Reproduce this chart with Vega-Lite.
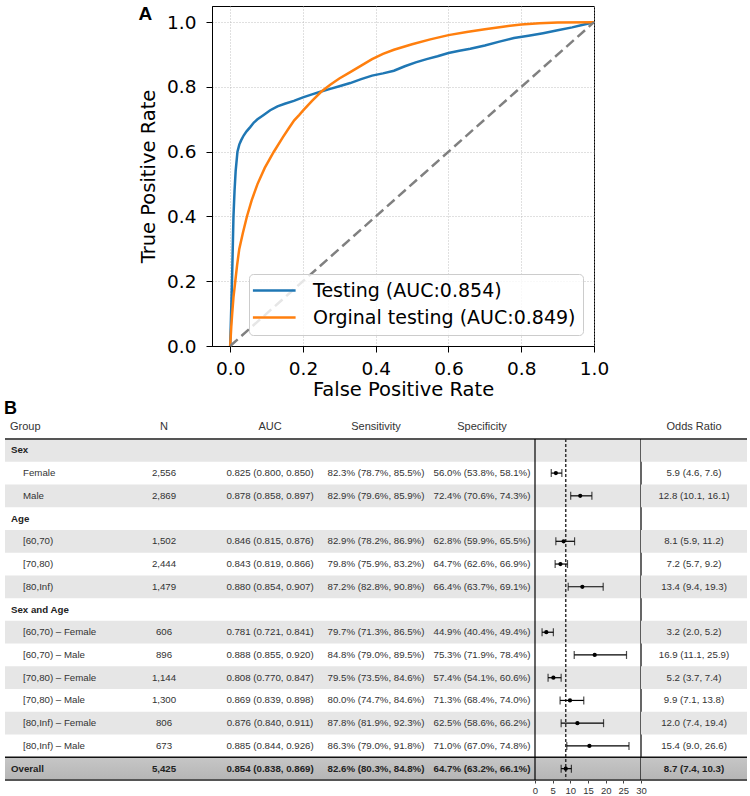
{
  "$schema": "https://vega.github.io/schema/vega-lite/v6.json",
  "background": "white",
  "padding": {"left": 4, "top": 4, "right": 0, "bottom": 16},
  "config": {
    "view": {"stroke": null},
    "font": "Liberation Sans",
    "title": {"font": "Liberation Sans", "fontSize": 11, "fontWeight": "normal", "color": "#333333", "offset": 6}
  },
  "spacing": 0,
  "resolve": {"legend": {"color": "independent"}},
  "vconcat": [
    {
      "spacing": 0,
      "resolve": {"legend": {"color": "independent"}},
      "hconcat": [
        {"width": 133, "height": 1, "data": {"values": []}, "mark": "rect"},
        {
          "width": 382,
          "height": 340,
          "view": {"stroke": "black", "strokeWidth": 1},
          "title": {"text": "A", "anchor": "start", "frame": "bounds", "fontSize": 19, "fontWeight": "bold", "color": "black", "offset": -18},
          "layer": [
            {
              "data": {
                "values": [
                  {"series": "Testing (AUC:0.854)",
                   "fpr": [0, 0.002, 0.004, 0.005, 0.007, 0.009, 0.012, 0.015, 0.02, 0.025, 0.03, 0.037, 0.045, 0.055, 0.065, 0.075, 0.09, 0.11, 0.13, 0.15, 0.175, 0.2, 0.225, 0.25, 0.275, 0.3, 0.33, 0.36, 0.39, 0.42, 0.45, 0.48, 0.51, 0.54, 0.57, 0.6, 0.63, 0.66, 0.7, 0.74, 0.78, 0.82, 0.86, 0.9, 0.94, 0.97, 1],
                   "tpr": [0, 0.08, 0.16, 0.2, 0.3, 0.4, 0.48, 0.54, 0.6, 0.622, 0.635, 0.65, 0.663, 0.676, 0.69, 0.7, 0.712, 0.728, 0.74, 0.748, 0.757, 0.768, 0.777, 0.786, 0.794, 0.802, 0.812, 0.824, 0.835, 0.842, 0.85, 0.864, 0.876, 0.886, 0.895, 0.905, 0.912, 0.918, 0.928, 0.94, 0.951, 0.958, 0.966, 0.975, 0.984, 0.992, 1]},
                  {"series": "Orginal testing (AUC:0.849)",
                   "fpr": [0, 0.003, 0.0055, 0.009, 0.014, 0.019, 0.025, 0.035, 0.046, 0.059, 0.075, 0.095, 0.12, 0.145, 0.162, 0.176, 0.19, 0.2, 0.225, 0.25, 0.275, 0.3, 0.33, 0.36, 0.39, 0.42, 0.45, 0.5, 0.55, 0.6, 0.65, 0.7, 0.75, 0.8, 0.85, 0.9, 1],
                   "tpr": [0, 0.06, 0.1, 0.15, 0.2, 0.25, 0.3, 0.35, 0.4, 0.45, 0.5, 0.55, 0.6, 0.645, 0.674, 0.697, 0.714, 0.727, 0.757, 0.785, 0.807, 0.826, 0.846, 0.866, 0.886, 0.902, 0.915, 0.932, 0.947, 0.96, 0.97, 0.978, 0.986, 0.993, 0.997, 0.999, 1]}
                ]
              },
              "transform": [{"flatten": ["fpr", "tpr"]}],
              "mark": {"type": "line", "strokeWidth": 2.5},
              "encoding": {
                "x": {
                  "field": "fpr", "type": "quantitative",
                  "scale": {"domain": [-0.05, 1], "nice": false, "zero": false},
                  "axis": {"title": "False Positive Rate", "values": [0, 0.2, 0.4, 0.6, 0.8, 1], "format": ".1f", "labelFlush": false, "labelOverlap": false,
                           "grid": true, "gridColor": "#b0b0b0", "gridDash": [1, 2], "gridWidth": 0.8,
                           "domainColor": "black", "domainWidth": 1, "tickColor": "black", "tickSize": 6, "tickWidth": 1,
                           "labelFont": "DejaVu Sans", "labelFontSize": 18.5, "labelColor": "black", "labelPadding": 7,
                           "titleFont": "DejaVu Sans", "titleFontSize": 19.5, "titleFontWeight": "normal", "titleColor": "black", "titlePadding": 3}
                },
                "y": {
                  "field": "tpr", "type": "quantitative",
                  "scale": {"domain": [0, 1.05], "nice": false, "zero": false},
                  "axis": {"title": "True Positive Rate", "values": [0, 0.2, 0.4, 0.6, 0.8, 1], "format": ".1f", "labelFlush": false, "labelOverlap": false,
                           "grid": true, "gridColor": "#b0b0b0", "gridDash": [1, 2], "gridWidth": 0.8,
                           "domainColor": "black", "domainWidth": 1, "tickColor": "black", "tickSize": 6, "tickWidth": 1,
                           "labelFont": "DejaVu Sans", "labelFontSize": 18.5, "labelColor": "black", "labelPadding": 10,
                           "titleFont": "DejaVu Sans", "titleFontSize": 19.5, "titleFontWeight": "normal", "titleColor": "black", "titlePadding": 8}
                },
                "color": {
                  "field": "series", "type": "nominal",
                  "scale": {"domain": ["Testing (AUC:0.854)", "Orginal testing (AUC:0.849)"], "range": ["#1f77b4", "#ff7f0e"]},
                  "legend": {"title": null, "orient": "bottom-right", "offset": 11, "symbolType": "M-1.8,0H4.3", "symbolSize": 196, "symbolStrokeWidth": 2.5,
                             "labelFont": "DejaVu Sans", "labelFontSize": 19, "labelColor": "black", "labelLimit": 400, "labelOffset": 38,
                             "fillColor": "rgba(255,255,255,0.8)", "strokeColor": "#cccccc", "cornerRadius": 4, "padding": 7, "rowPadding": 7}
                }
              }
            },
            {
              "data": {"values": [{"fpr": 0, "tpr": 0}, {"fpr": 1, "tpr": 1}]},
              "mark": {"type": "line", "color": "#808080", "strokeWidth": 2.5, "strokeDash": [10, 5]},
              "encoding": {
                "x": {"field": "fpr", "type": "quantitative"},
                "y": {"field": "tpr", "type": "quantitative"}
              }
            }
          ]
        }
      ]
    },
    {
      "title": {"text": "B", "anchor": "start", "fontSize": 18, "fontWeight": "bold", "color": "black", "offset": 3},
      "data": {
        "values": [
          {"Group": "Sex", "kind": "group"},
          {"Group": "Female", "kind": "item", "N": "2,556", "AUC": "0.825 (0.800, 0.850)", "Sensitivity": "82.3% (78.7%, 85.5%)", "Specificity": "56.0% (53.8%, 58.1%)", "or": 5.9, "lo": 4.6, "hi": 7.6},
          {"Group": "Male", "kind": "item", "N": "2,869", "AUC": "0.878 (0.858, 0.897)", "Sensitivity": "82.9% (79.6%, 85.9%)", "Specificity": "72.4% (70.6%, 74.3%)", "or": 12.8, "lo": 10.1, "hi": 16.1},
          {"Group": "Age", "kind": "group"},
          {"Group": "[60,70)", "kind": "item", "N": "1,502", "AUC": "0.846 (0.815, 0.876)", "Sensitivity": "82.9% (78.2%, 86.9%)", "Specificity": "62.8% (59.9%, 65.5%)", "or": 8.1, "lo": 5.9, "hi": 11.2},
          {"Group": "[70,80)", "kind": "item", "N": "2,444", "AUC": "0.843 (0.819, 0.866)", "Sensitivity": "79.8% (75.9%, 83.2%)", "Specificity": "64.7% (62.6%, 66.9%)", "or": 7.2, "lo": 5.7, "hi": 9.2},
          {"Group": "[80,Inf)", "kind": "item", "N": "1,479", "AUC": "0.880 (0.854, 0.907)", "Sensitivity": "87.2% (82.8%, 90.8%)", "Specificity": "66.4% (63.7%, 69.1%)", "or": 13.4, "lo": 9.4, "hi": 19.3},
          {"Group": "Sex and Age", "kind": "group"},
          {"Group": "[60,70) – Female", "kind": "item", "N": "606", "AUC": "0.781 (0.721, 0.841)", "Sensitivity": "79.7% (71.3%, 86.5%)", "Specificity": "44.9% (40.4%, 49.4%)", "or": 3.2, "lo": 2.0, "hi": 5.2},
          {"Group": "[60,70) – Male", "kind": "item", "N": "896", "AUC": "0.888 (0.855, 0.920)", "Sensitivity": "84.8% (79.0%, 89.5%)", "Specificity": "75.3% (71.9%, 78.4%)", "or": 16.9, "lo": 11.1, "hi": 25.9},
          {"Group": "[70,80) – Female", "kind": "item", "N": "1,144", "AUC": "0.808 (0.770, 0.847)", "Sensitivity": "79.5% (73.5%, 84.6%)", "Specificity": "57.4% (54.1%, 60.6%)", "or": 5.2, "lo": 3.7, "hi": 7.4},
          {"Group": "[70,80) – Male", "kind": "item", "N": "1,300", "AUC": "0.869 (0.839, 0.898)", "Sensitivity": "80.0% (74.7%, 84.6%)", "Specificity": "71.3% (68.4%, 74.0%)", "or": 9.9, "lo": 7.1, "hi": 13.8},
          {"Group": "[80,Inf) – Female", "kind": "item", "N": "806", "AUC": "0.876 (0.840, 0.911)", "Sensitivity": "87.8% (81.9%, 92.3%)", "Specificity": "62.5% (58.6%, 66.2%)", "or": 12.0, "lo": 7.4, "hi": 19.4},
          {"Group": "[80,Inf) – Male", "kind": "item", "N": "673", "AUC": "0.885 (0.844, 0.926)", "Sensitivity": "86.3% (79.0%, 91.8%)", "Specificity": "71.0% (67.0%, 74.8%)", "or": 15.4, "lo": 9.0, "hi": 26.6},
          {"Group": "Overall", "kind": "overall", "N": "5,425", "AUC": "0.854 (0.838, 0.869)", "Sensitivity": "82.6% (80.3%, 84.8%)", "Specificity": "64.7% (63.2%, 66.1%)", "or": 8.7, "lo": 7.4, "hi": 10.3}
        ]
      },
      "transform": [{"window": [{"op": "row_number", "as": "rn"}]}],
      "spacing": 0,
      "bounds": "flush",
      "hconcat": [
        {
          "width": 106, "height": 341,
          "title": {"text": "Group", "anchor": "start", "dx": 6},
          "layer": [
            {"transform": [{"filter": "datum.rn % 2 == 1 && datum.kind != 'overall'"}], "mark": {"type": "rect", "color": "#e6e6e6"},
             "encoding": {"x": {"datum": 0, "type": "quantitative", "scale": {"domain": [0, 1]}, "axis": null}, "x2": {"datum": 1}, "y": {"field": "rn", "type": "ordinal", "axis": null, "scale": {"type": "band", "domain": [1, 2, 3, 4, 5, 6, 7, 8, 9, 10, 11, 12, 13, 14, 15], "paddingInner": 0, "paddingOuter": 0}}}},
            {"transform": [{"filter": "datum.kind == 'overall'"}], "mark": {"type": "rect", "color": {"gradient": "linear", "x1": 0, "y1": 0, "x2": 0, "y2": 1, "stops": [{"offset": 0, "color": "#c6c6c6"}, {"offset": 1, "color": "#b5b5b5"}]}},
             "encoding": {"x": {"datum": 0, "type": "quantitative", "axis": null}, "x2": {"datum": 1}, "y": {"field": "rn", "type": "ordinal", "axis": null, "scale": {"type": "band", "domain": [1, 2, 3, 4, 5, 6, 7, 8, 9, 10, 11, 12, 13, 14, 15], "paddingInner": 0, "paddingOuter": 0}}}},
            {"transform": [{"filter": "datum.rn == 1"}], "mark": {"type": "rule", "color": "#555555", "strokeWidth": 2},
             "encoding": {"x": {"datum": 0, "type": "quantitative", "axis": null}, "x2": {"datum": 1}, "y": {"field": "rn", "type": "ordinal", "bandPosition": 0, "axis": null, "scale": {"type": "band", "domain": [1, 2, 3, 4, 5, 6, 7, 8, 9, 10, 11, 12, 13, 14, 15], "paddingInner": 0, "paddingOuter": 0}}}},
            {"transform": [{"filter": "datum.kind == 'overall'"}], "mark": {"type": "rule", "color": "#111111", "strokeWidth": 1.6},
             "encoding": {"x": {"datum": 0, "type": "quantitative", "axis": null}, "x2": {"datum": 1}, "y": {"field": "rn", "type": "ordinal", "bandPosition": 0, "axis": null, "scale": {"type": "band", "domain": [1, 2, 3, 4, 5, 6, 7, 8, 9, 10, 11, 12, 13, 14, 15], "paddingInner": 0, "paddingOuter": 0}}}},
            {"transform": [{"filter": "datum.kind == 'overall'"}], "mark": {"type": "rule", "color": "#555555", "strokeWidth": 2},
             "encoding": {"x": {"datum": 0, "type": "quantitative", "axis": null}, "x2": {"datum": 1}, "y": {"field": "rn", "type": "ordinal", "bandPosition": 1, "axis": null, "scale": {"type": "band", "domain": [1, 2, 3, 4, 5, 6, 7, 8, 9, 10, 11, 12, 13, 14, 15], "paddingInner": 0, "paddingOuter": 0}}}},
            {"transform": [{"filter": "datum.kind != 'item'"}], "mark": {"type": "text", "align": "left", "dx": 6, "fontSize": 9.7, "fontWeight": "bold", "color": "#222222"},
             "encoding": {"x": {"datum": 0, "type": "quantitative", "axis": null}, "y": {"field": "rn", "type": "ordinal", "axis": null, "scale": {"type": "band", "domain": [1, 2, 3, 4, 5, 6, 7, 8, 9, 10, 11, 12, 13, 14, 15], "paddingInner": 0, "paddingOuter": 0}}, "text": {"field": "Group"}}},
            {"transform": [{"filter": "datum.kind == 'item'"}], "mark": {"type": "text", "align": "left", "dx": 18, "fontSize": 9.7, "color": "#333333"},
             "encoding": {"x": {"datum": 0, "type": "quantitative", "axis": null}, "y": {"field": "rn", "type": "ordinal", "axis": null, "scale": {"type": "band", "domain": [1, 2, 3, 4, 5, 6, 7, 8, 9, 10, 11, 12, 13, 14, 15], "paddingInner": 0, "paddingOuter": 0}}, "text": {"field": "Group"}}}
          ]
        },
        {
          "width": 106, "height": 341,
          "title": {"text": "N"},
          "layer": [
            {"transform": [{"filter": "datum.rn % 2 == 1 && datum.kind != 'overall'"}], "mark": {"type": "rect", "color": "#e6e6e6"},
             "encoding": {"y": {"field": "rn", "type": "ordinal", "axis": null, "scale": {"type": "band", "domain": [1, 2, 3, 4, 5, 6, 7, 8, 9, 10, 11, 12, 13, 14, 15], "paddingInner": 0, "paddingOuter": 0}}}},
            {"transform": [{"filter": "datum.kind == 'overall'"}], "mark": {"type": "rect", "color": {"gradient": "linear", "x1": 0, "y1": 0, "x2": 0, "y2": 1, "stops": [{"offset": 0, "color": "#c6c6c6"}, {"offset": 1, "color": "#b5b5b5"}]}},
             "encoding": {"y": {"field": "rn", "type": "ordinal", "axis": null, "scale": {"type": "band", "domain": [1, 2, 3, 4, 5, 6, 7, 8, 9, 10, 11, 12, 13, 14, 15], "paddingInner": 0, "paddingOuter": 0}}}},
            {"transform": [{"filter": "datum.rn == 1"}], "mark": {"type": "rule", "color": "#555555", "strokeWidth": 2},
             "encoding": {"y": {"field": "rn", "type": "ordinal", "bandPosition": 0, "axis": null, "scale": {"type": "band", "domain": [1, 2, 3, 4, 5, 6, 7, 8, 9, 10, 11, 12, 13, 14, 15], "paddingInner": 0, "paddingOuter": 0}}}},
            {"transform": [{"filter": "datum.kind == 'overall'"}], "mark": {"type": "rule", "color": "#111111", "strokeWidth": 1.6},
             "encoding": {"y": {"field": "rn", "type": "ordinal", "bandPosition": 0, "axis": null, "scale": {"type": "band", "domain": [1, 2, 3, 4, 5, 6, 7, 8, 9, 10, 11, 12, 13, 14, 15], "paddingInner": 0, "paddingOuter": 0}}}},
            {"transform": [{"filter": "datum.kind == 'overall'"}], "mark": {"type": "rule", "color": "#555555", "strokeWidth": 2},
             "encoding": {"y": {"field": "rn", "type": "ordinal", "bandPosition": 1, "axis": null, "scale": {"type": "band", "domain": [1, 2, 3, 4, 5, 6, 7, 8, 9, 10, 11, 12, 13, 14, 15], "paddingInner": 0, "paddingOuter": 0}}}},
            {"transform": [{"filter": "datum.kind == 'item'"}], "mark": {"type": "text", "fontSize": 9.7, "color": "#333333"},
             "encoding": {"y": {"field": "rn", "type": "ordinal", "axis": null, "scale": {"type": "band", "domain": [1, 2, 3, 4, 5, 6, 7, 8, 9, 10, 11, 12, 13, 14, 15], "paddingInner": 0, "paddingOuter": 0}}, "text": {"field": "N"}}},
            {"transform": [{"filter": "datum.kind == 'overall'"}], "mark": {"type": "text", "fontSize": 9.7, "fontWeight": "bold", "color": "#222222"},
             "encoding": {"y": {"field": "rn", "type": "ordinal", "axis": null, "scale": {"type": "band", "domain": [1, 2, 3, 4, 5, 6, 7, 8, 9, 10, 11, 12, 13, 14, 15], "paddingInner": 0, "paddingOuter": 0}}, "text": {"field": "N"}}}
          ]
        },
        {
          "width": 106, "height": 341,
          "title": {"text": "AUC"},
          "layer": [
            {"transform": [{"filter": "datum.rn % 2 == 1 && datum.kind != 'overall'"}], "mark": {"type": "rect", "color": "#e6e6e6"},
             "encoding": {"y": {"field": "rn", "type": "ordinal", "axis": null, "scale": {"type": "band", "domain": [1, 2, 3, 4, 5, 6, 7, 8, 9, 10, 11, 12, 13, 14, 15], "paddingInner": 0, "paddingOuter": 0}}}},
            {"transform": [{"filter": "datum.kind == 'overall'"}], "mark": {"type": "rect", "color": {"gradient": "linear", "x1": 0, "y1": 0, "x2": 0, "y2": 1, "stops": [{"offset": 0, "color": "#c6c6c6"}, {"offset": 1, "color": "#b5b5b5"}]}},
             "encoding": {"y": {"field": "rn", "type": "ordinal", "axis": null, "scale": {"type": "band", "domain": [1, 2, 3, 4, 5, 6, 7, 8, 9, 10, 11, 12, 13, 14, 15], "paddingInner": 0, "paddingOuter": 0}}}},
            {"transform": [{"filter": "datum.rn == 1"}], "mark": {"type": "rule", "color": "#555555", "strokeWidth": 2},
             "encoding": {"y": {"field": "rn", "type": "ordinal", "bandPosition": 0, "axis": null, "scale": {"type": "band", "domain": [1, 2, 3, 4, 5, 6, 7, 8, 9, 10, 11, 12, 13, 14, 15], "paddingInner": 0, "paddingOuter": 0}}}},
            {"transform": [{"filter": "datum.kind == 'overall'"}], "mark": {"type": "rule", "color": "#111111", "strokeWidth": 1.6},
             "encoding": {"y": {"field": "rn", "type": "ordinal", "bandPosition": 0, "axis": null, "scale": {"type": "band", "domain": [1, 2, 3, 4, 5, 6, 7, 8, 9, 10, 11, 12, 13, 14, 15], "paddingInner": 0, "paddingOuter": 0}}}},
            {"transform": [{"filter": "datum.kind == 'overall'"}], "mark": {"type": "rule", "color": "#555555", "strokeWidth": 2},
             "encoding": {"y": {"field": "rn", "type": "ordinal", "bandPosition": 1, "axis": null, "scale": {"type": "band", "domain": [1, 2, 3, 4, 5, 6, 7, 8, 9, 10, 11, 12, 13, 14, 15], "paddingInner": 0, "paddingOuter": 0}}}},
            {"transform": [{"filter": "datum.kind == 'item'"}], "mark": {"type": "text", "fontSize": 9.7, "color": "#333333"},
             "encoding": {"y": {"field": "rn", "type": "ordinal", "axis": null, "scale": {"type": "band", "domain": [1, 2, 3, 4, 5, 6, 7, 8, 9, 10, 11, 12, 13, 14, 15], "paddingInner": 0, "paddingOuter": 0}}, "text": {"field": "AUC"}}},
            {"transform": [{"filter": "datum.kind == 'overall'"}], "mark": {"type": "text", "fontSize": 9.7, "fontWeight": "bold", "color": "#222222"},
             "encoding": {"y": {"field": "rn", "type": "ordinal", "axis": null, "scale": {"type": "band", "domain": [1, 2, 3, 4, 5, 6, 7, 8, 9, 10, 11, 12, 13, 14, 15], "paddingInner": 0, "paddingOuter": 0}}, "text": {"field": "AUC"}}}
          ]
        },
        {
          "width": 106, "height": 341,
          "title": {"text": "Sensitivity"},
          "layer": [
            {"transform": [{"filter": "datum.rn % 2 == 1 && datum.kind != 'overall'"}], "mark": {"type": "rect", "color": "#e6e6e6"},
             "encoding": {"y": {"field": "rn", "type": "ordinal", "axis": null, "scale": {"type": "band", "domain": [1, 2, 3, 4, 5, 6, 7, 8, 9, 10, 11, 12, 13, 14, 15], "paddingInner": 0, "paddingOuter": 0}}}},
            {"transform": [{"filter": "datum.kind == 'overall'"}], "mark": {"type": "rect", "color": {"gradient": "linear", "x1": 0, "y1": 0, "x2": 0, "y2": 1, "stops": [{"offset": 0, "color": "#c6c6c6"}, {"offset": 1, "color": "#b5b5b5"}]}},
             "encoding": {"y": {"field": "rn", "type": "ordinal", "axis": null, "scale": {"type": "band", "domain": [1, 2, 3, 4, 5, 6, 7, 8, 9, 10, 11, 12, 13, 14, 15], "paddingInner": 0, "paddingOuter": 0}}}},
            {"transform": [{"filter": "datum.rn == 1"}], "mark": {"type": "rule", "color": "#555555", "strokeWidth": 2},
             "encoding": {"y": {"field": "rn", "type": "ordinal", "bandPosition": 0, "axis": null, "scale": {"type": "band", "domain": [1, 2, 3, 4, 5, 6, 7, 8, 9, 10, 11, 12, 13, 14, 15], "paddingInner": 0, "paddingOuter": 0}}}},
            {"transform": [{"filter": "datum.kind == 'overall'"}], "mark": {"type": "rule", "color": "#111111", "strokeWidth": 1.6},
             "encoding": {"y": {"field": "rn", "type": "ordinal", "bandPosition": 0, "axis": null, "scale": {"type": "band", "domain": [1, 2, 3, 4, 5, 6, 7, 8, 9, 10, 11, 12, 13, 14, 15], "paddingInner": 0, "paddingOuter": 0}}}},
            {"transform": [{"filter": "datum.kind == 'overall'"}], "mark": {"type": "rule", "color": "#555555", "strokeWidth": 2},
             "encoding": {"y": {"field": "rn", "type": "ordinal", "bandPosition": 1, "axis": null, "scale": {"type": "band", "domain": [1, 2, 3, 4, 5, 6, 7, 8, 9, 10, 11, 12, 13, 14, 15], "paddingInner": 0, "paddingOuter": 0}}}},
            {"transform": [{"filter": "datum.kind == 'item'"}], "mark": {"type": "text", "fontSize": 9.7, "color": "#333333"},
             "encoding": {"y": {"field": "rn", "type": "ordinal", "axis": null, "scale": {"type": "band", "domain": [1, 2, 3, 4, 5, 6, 7, 8, 9, 10, 11, 12, 13, 14, 15], "paddingInner": 0, "paddingOuter": 0}}, "text": {"field": "Sensitivity"}}},
            {"transform": [{"filter": "datum.kind == 'overall'"}], "mark": {"type": "text", "fontSize": 9.7, "fontWeight": "bold", "color": "#222222"},
             "encoding": {"y": {"field": "rn", "type": "ordinal", "axis": null, "scale": {"type": "band", "domain": [1, 2, 3, 4, 5, 6, 7, 8, 9, 10, 11, 12, 13, 14, 15], "paddingInner": 0, "paddingOuter": 0}}, "text": {"field": "Sensitivity"}}}
          ]
        },
        {
          "width": 106, "height": 341,
          "title": {"text": "Specificity"},
          "layer": [
            {"transform": [{"filter": "datum.rn % 2 == 1 && datum.kind != 'overall'"}], "mark": {"type": "rect", "color": "#e6e6e6"},
             "encoding": {"y": {"field": "rn", "type": "ordinal", "axis": null, "scale": {"type": "band", "domain": [1, 2, 3, 4, 5, 6, 7, 8, 9, 10, 11, 12, 13, 14, 15], "paddingInner": 0, "paddingOuter": 0}}}},
            {"transform": [{"filter": "datum.kind == 'overall'"}], "mark": {"type": "rect", "color": {"gradient": "linear", "x1": 0, "y1": 0, "x2": 0, "y2": 1, "stops": [{"offset": 0, "color": "#c6c6c6"}, {"offset": 1, "color": "#b5b5b5"}]}},
             "encoding": {"y": {"field": "rn", "type": "ordinal", "axis": null, "scale": {"type": "band", "domain": [1, 2, 3, 4, 5, 6, 7, 8, 9, 10, 11, 12, 13, 14, 15], "paddingInner": 0, "paddingOuter": 0}}}},
            {"transform": [{"filter": "datum.rn == 1"}], "mark": {"type": "rule", "color": "#555555", "strokeWidth": 2},
             "encoding": {"y": {"field": "rn", "type": "ordinal", "bandPosition": 0, "axis": null, "scale": {"type": "band", "domain": [1, 2, 3, 4, 5, 6, 7, 8, 9, 10, 11, 12, 13, 14, 15], "paddingInner": 0, "paddingOuter": 0}}}},
            {"transform": [{"filter": "datum.kind == 'overall'"}], "mark": {"type": "rule", "color": "#111111", "strokeWidth": 1.6},
             "encoding": {"y": {"field": "rn", "type": "ordinal", "bandPosition": 0, "axis": null, "scale": {"type": "band", "domain": [1, 2, 3, 4, 5, 6, 7, 8, 9, 10, 11, 12, 13, 14, 15], "paddingInner": 0, "paddingOuter": 0}}}},
            {"transform": [{"filter": "datum.kind == 'overall'"}], "mark": {"type": "rule", "color": "#555555", "strokeWidth": 2},
             "encoding": {"y": {"field": "rn", "type": "ordinal", "bandPosition": 1, "axis": null, "scale": {"type": "band", "domain": [1, 2, 3, 4, 5, 6, 7, 8, 9, 10, 11, 12, 13, 14, 15], "paddingInner": 0, "paddingOuter": 0}}}},
            {"transform": [{"filter": "datum.kind == 'item'"}], "mark": {"type": "text", "fontSize": 9.7, "color": "#333333"},
             "encoding": {"y": {"field": "rn", "type": "ordinal", "axis": null, "scale": {"type": "band", "domain": [1, 2, 3, 4, 5, 6, 7, 8, 9, 10, 11, 12, 13, 14, 15], "paddingInner": 0, "paddingOuter": 0}}, "text": {"field": "Specificity"}}},
            {"transform": [{"filter": "datum.kind == 'overall'"}], "mark": {"type": "text", "fontSize": 9.7, "fontWeight": "bold", "color": "#222222"},
             "encoding": {"y": {"field": "rn", "type": "ordinal", "axis": null, "scale": {"type": "band", "domain": [1, 2, 3, 4, 5, 6, 7, 8, 9, 10, 11, 12, 13, 14, 15], "paddingInner": 0, "paddingOuter": 0}}, "text": {"field": "Specificity"}}}
          ]
        },
        {
          "width": 106, "height": 341,
          "layer": [
            {"transform": [{"filter": "datum.rn % 2 == 1 && datum.kind != 'overall'"}], "mark": {"type": "rect", "color": "#e6e6e6"},
             "encoding": {
               "x": {"datum": 0, "type": "quantitative", "scale": {"domain": [0, 30], "nice": false},
                     "axis": {"title": null, "values": [0, 5, 10, 15, 20, 25, 30], "domain": false, "grid": false, "tickSize": 3, "tickColor": "#444444", "labelFont": "Liberation Sans", "labelFontSize": 9.5, "labelColor": "#333333", "labelPadding": 2, "labelFlush": false, "labelOverlap": false}},
               "x2": {"datum": 30},
               "y": {"field": "rn", "type": "ordinal", "axis": null, "scale": {"type": "band", "domain": [1, 2, 3, 4, 5, 6, 7, 8, 9, 10, 11, 12, 13, 14, 15], "paddingInner": 0, "paddingOuter": 0}}}},
            {"transform": [{"filter": "datum.kind == 'overall'"}], "mark": {"type": "rect", "color": {"gradient": "linear", "x1": 0, "y1": 0, "x2": 0, "y2": 1, "stops": [{"offset": 0, "color": "#c6c6c6"}, {"offset": 1, "color": "#b5b5b5"}]}},
             "encoding": {
               "x": {"datum": 0, "type": "quantitative",
                     "axis": {"title": null, "values": [0, 5, 10, 15, 20, 25, 30], "domain": false, "grid": false, "tickSize": 3, "tickColor": "#444444", "labelFont": "Liberation Sans", "labelFontSize": 9.5, "labelColor": "#333333", "labelPadding": 2, "labelFlush": false, "labelOverlap": false}},
               "x2": {"datum": 30},
               "y": {"field": "rn", "type": "ordinal", "axis": null, "scale": {"type": "band", "domain": [1, 2, 3, 4, 5, 6, 7, 8, 9, 10, 11, 12, 13, 14, 15], "paddingInner": 0, "paddingOuter": 0}}}},
            {"transform": [{"filter": "datum.rn == 1"}], "mark": {"type": "rule", "color": "#555555", "strokeWidth": 2},
             "encoding": {
               "x": {"datum": 0, "type": "quantitative",
                     "axis": {"title": null, "values": [0, 5, 10, 15, 20, 25, 30], "domain": false, "grid": false, "tickSize": 3, "tickColor": "#444444", "labelFont": "Liberation Sans", "labelFontSize": 9.5, "labelColor": "#333333", "labelPadding": 2, "labelFlush": false, "labelOverlap": false}},
               "x2": {"datum": 30},
               "y": {"field": "rn", "type": "ordinal", "bandPosition": 0, "axis": null, "scale": {"type": "band", "domain": [1, 2, 3, 4, 5, 6, 7, 8, 9, 10, 11, 12, 13, 14, 15], "paddingInner": 0, "paddingOuter": 0}}}},
            {"transform": [{"filter": "datum.kind == 'overall'"}], "mark": {"type": "rule", "color": "#111111", "strokeWidth": 1.6},
             "encoding": {
               "x": {"datum": 0, "type": "quantitative",
                     "axis": {"title": null, "values": [0, 5, 10, 15, 20, 25, 30], "domain": false, "grid": false, "tickSize": 3, "tickColor": "#444444", "labelFont": "Liberation Sans", "labelFontSize": 9.5, "labelColor": "#333333", "labelPadding": 2, "labelFlush": false, "labelOverlap": false}},
               "x2": {"datum": 30},
               "y": {"field": "rn", "type": "ordinal", "bandPosition": 0, "axis": null, "scale": {"type": "band", "domain": [1, 2, 3, 4, 5, 6, 7, 8, 9, 10, 11, 12, 13, 14, 15], "paddingInner": 0, "paddingOuter": 0}}}},
            {"transform": [{"filter": "datum.kind == 'overall'"}], "mark": {"type": "rule", "color": "#555555", "strokeWidth": 2},
             "encoding": {
               "x": {"datum": 0, "type": "quantitative",
                     "axis": {"title": null, "values": [0, 5, 10, 15, 20, 25, 30], "domain": false, "grid": false, "tickSize": 3, "tickColor": "#444444", "labelFont": "Liberation Sans", "labelFontSize": 9.5, "labelColor": "#333333", "labelPadding": 2, "labelFlush": false, "labelOverlap": false}},
               "x2": {"datum": 30},
               "y": {"field": "rn", "type": "ordinal", "bandPosition": 1, "axis": null, "scale": {"type": "band", "domain": [1, 2, 3, 4, 5, 6, 7, 8, 9, 10, 11, 12, 13, 14, 15], "paddingInner": 0, "paddingOuter": 0}}}},
            {"transform": [{"filter": "datum.kind == 'overall'"}], "mark": {"type": "rule", "color": "black", "strokeWidth": 1.2},
             "encoding": {
               "x": {"datum": 0, "type": "quantitative",
                     "axis": {"title": null, "values": [0, 5, 10, 15, 20, 25, 30], "domain": false, "grid": false, "tickSize": 3, "tickColor": "#444444", "labelFont": "Liberation Sans", "labelFontSize": 9.5, "labelColor": "#333333", "labelPadding": 2, "labelFlush": false, "labelOverlap": false}}}},
            {"transform": [{"filter": "datum.kind == 'overall'"}], "mark": {"type": "rule", "color": "black", "strokeWidth": 1.2},
             "encoding": {
               "x": {"datum": 30, "type": "quantitative",
                     "axis": {"title": null, "values": [0, 5, 10, 15, 20, 25, 30], "domain": false, "grid": false, "tickSize": 3, "tickColor": "#444444", "labelFont": "Liberation Sans", "labelFontSize": 9.5, "labelColor": "#333333", "labelPadding": 2, "labelFlush": false, "labelOverlap": false}}}},
            {"transform": [{"filter": "datum.kind == 'overall'"}], "mark": {"type": "rule", "color": "#333333", "strokeWidth": 1.5, "strokeDash": [3, 2]},
             "encoding": {
               "x": {"field": "or", "type": "quantitative",
                     "axis": {"title": null, "values": [0, 5, 10, 15, 20, 25, 30], "domain": false, "grid": false, "tickSize": 3, "tickColor": "#444444", "labelFont": "Liberation Sans", "labelFontSize": 9.5, "labelColor": "#333333", "labelPadding": 2, "labelFlush": false, "labelOverlap": false}}}},
            {"transform": [{"filter": "datum.kind != 'group'"}], "mark": {"type": "rule", "color": "black", "strokeWidth": 1.2},
             "encoding": {
               "x": {"field": "lo", "type": "quantitative",
                     "axis": {"title": null, "values": [0, 5, 10, 15, 20, 25, 30], "domain": false, "grid": false, "tickSize": 3, "tickColor": "#444444", "labelFont": "Liberation Sans", "labelFontSize": 9.5, "labelColor": "#333333", "labelPadding": 2, "labelFlush": false, "labelOverlap": false}},
               "x2": {"field": "hi"},
               "y": {"field": "rn", "type": "ordinal", "axis": null, "scale": {"type": "band", "domain": [1, 2, 3, 4, 5, 6, 7, 8, 9, 10, 11, 12, 13, 14, 15], "paddingInner": 0, "paddingOuter": 0}}}},
            {"transform": [{"filter": "datum.kind != 'group'"}], "mark": {"type": "tick", "orient": "vertical", "color": "black", "thickness": 1.2, "size": 8},
             "encoding": {
               "x": {"field": "lo", "type": "quantitative",
                     "axis": {"title": null, "values": [0, 5, 10, 15, 20, 25, 30], "domain": false, "grid": false, "tickSize": 3, "tickColor": "#444444", "labelFont": "Liberation Sans", "labelFontSize": 9.5, "labelColor": "#333333", "labelPadding": 2, "labelFlush": false, "labelOverlap": false}},
               "y": {"field": "rn", "type": "ordinal", "axis": null, "scale": {"type": "band", "domain": [1, 2, 3, 4, 5, 6, 7, 8, 9, 10, 11, 12, 13, 14, 15], "paddingInner": 0, "paddingOuter": 0}}}},
            {"transform": [{"filter": "datum.kind != 'group'"}], "mark": {"type": "tick", "orient": "vertical", "color": "black", "thickness": 1.2, "size": 8},
             "encoding": {
               "x": {"field": "hi", "type": "quantitative",
                     "axis": {"title": null, "values": [0, 5, 10, 15, 20, 25, 30], "domain": false, "grid": false, "tickSize": 3, "tickColor": "#444444", "labelFont": "Liberation Sans", "labelFontSize": 9.5, "labelColor": "#333333", "labelPadding": 2, "labelFlush": false, "labelOverlap": false}},
               "y": {"field": "rn", "type": "ordinal", "axis": null, "scale": {"type": "band", "domain": [1, 2, 3, 4, 5, 6, 7, 8, 9, 10, 11, 12, 13, 14, 15], "paddingInner": 0, "paddingOuter": 0}}}},
            {"transform": [{"filter": "datum.kind != 'group'"}], "mark": {"type": "circle", "color": "black", "size": 18, "opacity": 1},
             "encoding": {
               "x": {"field": "or", "type": "quantitative",
                     "axis": {"title": null, "values": [0, 5, 10, 15, 20, 25, 30], "domain": false, "grid": false, "tickSize": 3, "tickColor": "#444444", "labelFont": "Liberation Sans", "labelFontSize": 9.5, "labelColor": "#333333", "labelPadding": 2, "labelFlush": false, "labelOverlap": false}},
               "y": {"field": "rn", "type": "ordinal", "axis": null, "scale": {"type": "band", "domain": [1, 2, 3, 4, 5, 6, 7, 8, 9, 10, 11, 12, 13, 14, 15], "paddingInner": 0, "paddingOuter": 0}}}}
          ]
        },
        {
          "width": 106, "height": 341,
          "title": {"text": "Odds Ratio"},
          "layer": [
            {"transform": [{"filter": "datum.rn % 2 == 1 && datum.kind != 'overall'"}], "mark": {"type": "rect", "color": "#e6e6e6"},
             "encoding": {"y": {"field": "rn", "type": "ordinal", "axis": null, "scale": {"type": "band", "domain": [1, 2, 3, 4, 5, 6, 7, 8, 9, 10, 11, 12, 13, 14, 15], "paddingInner": 0, "paddingOuter": 0}}}},
            {"transform": [{"filter": "datum.kind == 'overall'"}], "mark": {"type": "rect", "color": {"gradient": "linear", "x1": 0, "y1": 0, "x2": 0, "y2": 1, "stops": [{"offset": 0, "color": "#c6c6c6"}, {"offset": 1, "color": "#b5b5b5"}]}},
             "encoding": {"y": {"field": "rn", "type": "ordinal", "axis": null, "scale": {"type": "band", "domain": [1, 2, 3, 4, 5, 6, 7, 8, 9, 10, 11, 12, 13, 14, 15], "paddingInner": 0, "paddingOuter": 0}}}},
            {"transform": [{"filter": "datum.rn == 1"}], "mark": {"type": "rule", "color": "#555555", "strokeWidth": 2},
             "encoding": {"y": {"field": "rn", "type": "ordinal", "bandPosition": 0, "axis": null, "scale": {"type": "band", "domain": [1, 2, 3, 4, 5, 6, 7, 8, 9, 10, 11, 12, 13, 14, 15], "paddingInner": 0, "paddingOuter": 0}}}},
            {"transform": [{"filter": "datum.kind == 'overall'"}], "mark": {"type": "rule", "color": "#111111", "strokeWidth": 1.6},
             "encoding": {"y": {"field": "rn", "type": "ordinal", "bandPosition": 0, "axis": null, "scale": {"type": "band", "domain": [1, 2, 3, 4, 5, 6, 7, 8, 9, 10, 11, 12, 13, 14, 15], "paddingInner": 0, "paddingOuter": 0}}}},
            {"transform": [{"filter": "datum.kind == 'overall'"}], "mark": {"type": "rule", "color": "#555555", "strokeWidth": 2},
             "encoding": {"y": {"field": "rn", "type": "ordinal", "bandPosition": 1, "axis": null, "scale": {"type": "band", "domain": [1, 2, 3, 4, 5, 6, 7, 8, 9, 10, 11, 12, 13, 14, 15], "paddingInner": 0, "paddingOuter": 0}}}},
            {"transform": [{"filter": "datum.kind == 'item'"}, {"calculate": "format(datum.or, '.1f') + ' (' + format(datum.lo, '.1f') + ', ' + format(datum.hi, '.1f') + ')'", "as": "or_label"}],
             "mark": {"type": "text", "fontSize": 9.7, "color": "#333333"},
             "encoding": {"y": {"field": "rn", "type": "ordinal", "axis": null, "scale": {"type": "band", "domain": [1, 2, 3, 4, 5, 6, 7, 8, 9, 10, 11, 12, 13, 14, 15], "paddingInner": 0, "paddingOuter": 0}}, "text": {"field": "or_label"}}},
            {"transform": [{"filter": "datum.kind == 'overall'"}, {"calculate": "format(datum.or, '.1f') + ' (' + format(datum.lo, '.1f') + ', ' + format(datum.hi, '.1f') + ')'", "as": "or_label"}],
             "mark": {"type": "text", "fontSize": 9.7, "fontWeight": "bold", "color": "#222222"},
             "encoding": {"y": {"field": "rn", "type": "ordinal", "axis": null, "scale": {"type": "band", "domain": [1, 2, 3, 4, 5, 6, 7, 8, 9, 10, 11, 12, 13, 14, 15], "paddingInner": 0, "paddingOuter": 0}}, "text": {"field": "or_label"}}}
          ]
        }
      ]
    }
  ]
}
